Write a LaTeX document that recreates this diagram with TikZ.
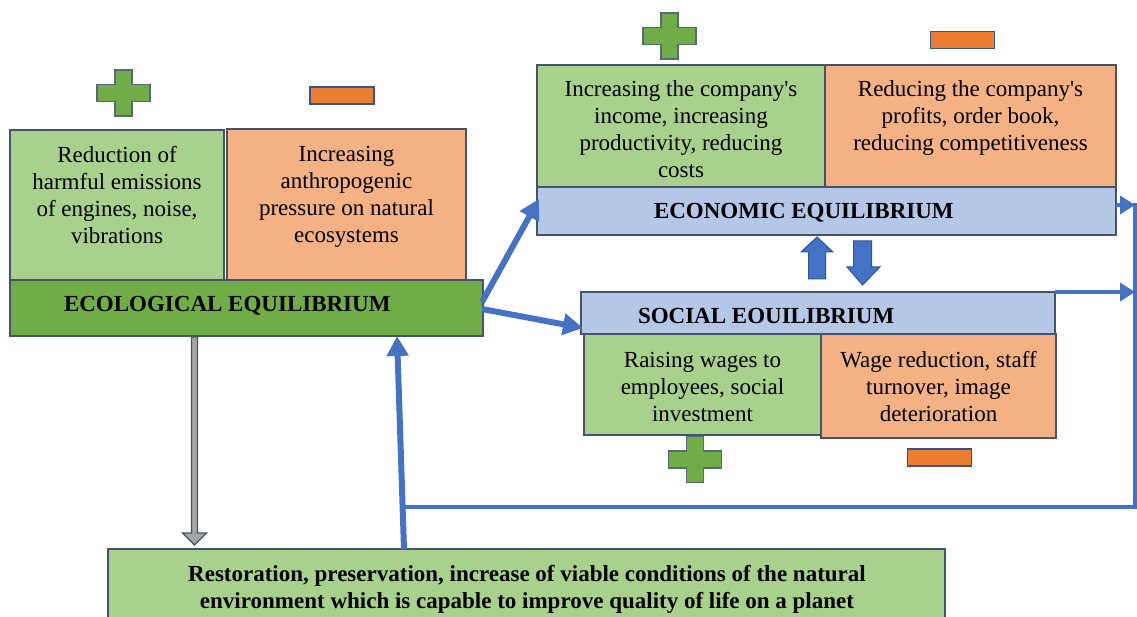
\documentclass[tikz,border=0pt]{standalone}
\usepackage{fontspec}
\setmainfont{Liberation Serif}
\usetikzlibrary{arrows.meta,calc}
\definecolor{lgreen}{HTML}{A9D18E}
\definecolor{lorange}{HTML}{F4B183}
\definecolor{dgreen}{HTML}{70AD47}
\definecolor{lblue}{HTML}{B4C7E7}
\definecolor{bordc}{HTML}{44546A}
\definecolor{conblue}{HTML}{4472C4}
\definecolor{darkblue}{HTML}{2F5597}
\definecolor{minusfill}{HTML}{ED7D31}
\definecolor{plusbord}{HTML}{56687A}
\definecolor{grayfill}{HTML}{A5A5A5}
\newcommand\sq{{\XeTeXglyph\XeTeXglyphindex "quotesingle" }}
\begin{document}
\begin{tikzpicture}[x=1bp,y=-1bp,
  box/.style={draw=bordc, line width=1.8bp, inner sep=0pt, outer sep=0pt},
  txt/.style={align=center, inner sep=0pt, outer sep=0pt, anchor=north, font=\fontsize{23bp}{26.7bp}\selectfont},
  headtxt/.style={inner sep=0pt, outer sep=0pt, anchor=base west, font=\fontsize{23bp}{26.7bp}\selectfont\bfseries},
  conn/.style={draw=conblue, line width=4.5bp},
  thickconn/.style={draw=conblue, line width=6bp},
  bigtip/.style={-{Triangle[length=20bp,width=21bp]}},
  smalltip/.style={-{Triangle[length=15bp,width=18bp]}},
  blockarrow/.style={fill=conblue, draw=darkblue, line width=1bp},
  plusmark/.pic={\draw[fill=dgreen, draw=plusbord, line width=1.8bp]
     (-8.5,-23) -- (8.5,-23) -- (8.5,-8.5) -- (26.5,-8.5) -- (26.5,8.5) -- (8.5,8.5)
     -- (8.5,23) -- (-8.5,23) -- (-8.5,8.5) -- (-26.5,8.5) -- (-26.5,-8.5) -- (-8.5,-8.5) -- cycle;},
  minusmark/.pic={\draw[fill=minusfill, draw=darkblue, line width=1.8bp] (-32,-8.5) rectangle (32,8.5);}
]
\useasboundingbox (0,0) rectangle (1137,617);
\clip (0,0) rectangle (1137,617);

% ---------- Ecological block ----------
\node[box, fill=lgreen, minimum width=214bp, minimum height=150bp] (ecop) at (117,205) {};
\node[box, fill=lorange, minimum width=239bp, minimum height=151bp] (ecom) at (346.5,204.5) {};
\node[box, fill=dgreen, minimum width=473bp, minimum height=56bp] (ecobar) at (246.5,308) {};
\node[txt] (ecoptxt) at (117,144.3) {\strut Reduction of\\harmful emissions\\of engines, noise,\\vibrations};
\node[txt] (ecomtxt) at (346.5,143.3) {\strut Increasing\\anthropogenic\\pressure on natural\\ecosystems};
\node[headtxt] (ecohead) at (64,312) {ECOLOGICAL EQUILIBRIUM};
\pic at (123.5,93) {plusmark};
\pic at (342,95.5) {minusmark};

% ---------- Economic block ----------
\node[box, fill=lgreen, minimum width=288bp, minimum height=122bp] (econp) at (681,126) {};
\node[box, fill=lorange, minimum width=291bp, minimum height=122bp] (econm) at (970.5,126) {};
\node[box, fill=lblue, minimum width=579bp, minimum height=48bp] (econbar) at (826.5,211) {};
\node[txt] (econptxt) at (681,78.3) {\strut Increasing the company\sq s\\income, increasing\\productivity, reducing\\costs};
\node[txt] (econmtxt) at (970.5,78.3) {\strut Reducing the company\sq s\\profits, order book,\\reducing competitiveness};
\node[headtxt] (econhead) at (654,219) {ECONOMIC EQUILIBRIUM};
\pic at (669.5,36) {plusmark};
\pic at (962.5,40) {minusmark};

% ---------- Social block ----------
\node[box, fill=lgreen, minimum width=237bp, minimum height=101bp] (socp) at (702.5,384.5) {};
\node[box, fill=lorange, minimum width=235bp, minimum height=104bp] (socm) at (938.5,386) {};
\node[box, fill=lblue, minimum width=474bp, minimum height=42bp] (socbar) at (818,313) {};
\node[txt] (socptxt) at (702.5,349.3) {\strut Raising wages to\\employees, social\\investment};
\node[txt] (socmtxt) at (938.5,349.3) {\strut Wage reduction, staff\\turnover, image\\deterioration};
\node[headtxt] (sochead) at (638,324) {SOCIAL EOUILIBRIUM};
\pic at (695,459.5) {plusmark};
\pic at (939.5,457.5) {minusmark};

% ---------- Bottom block ----------
\node[box, fill=lgreen, minimum width=837bp, minimum height=91bp] (bottom) at (526.5,594.5) {};
\node[txt, font=\fontsize{23bp}{26.7bp}\selectfont\bfseries] (bottomtxt) at (527,563.3)
  {\strut Restoration, preservation, increase of viable conditions of the natural\\environment which is capable to improve quality of life on a planet};

% ---------- Up / down block arrows ----------
\draw[blockarrow] (808.5,279) -- (808.5,252) -- (801,252) -- (817,237) -- (833,252) -- (825.5,252) -- (825.5,279) -- cycle;
\draw[blockarrow] (853.5,241) -- (871.5,241) -- (871.5,267) -- (880,267) -- (862.5,285) -- (847,267) -- (853.5,267) -- cycle;

% ---------- Gray arrow ecological -> bottom ----------
\draw[fill=grayfill, draw=bordc, line width=1.3bp]
  ($(ecobar.south west)+(181.5,1)$) -- ++(6,0) -- ++(0,196) -- ++(9,0) -- ++(-12,12) -- ++(-12,-12) -- ++(9,0) -- cycle;

% ---------- Blue connectors ----------
\coordinate (rtop) at (1135,205);
\coordinate (rbot) at (1135,507);
\coordinate (join) at (402.6,507);
\draw[thickconn, bigtip] ($(ecobar.east)+(-1,-6)$) -- ($(econbar.west)+(2,-12)$);
\draw[thickconn, bigtip] ($(ecobar.east)+(-1,1)$) -- ($(socbar.west)+(2,15)$);
\draw[conn, smalltip] ($(econbar.east)+(0,-6)$) -- (rtop);
\draw[conn, smalltip] (socbar.north east) -- (rtop |- socbar.north east);
\draw[conn] ($(rtop)+(0,-2)$) -- (rbot) -- (join);
\draw[thickconn, bigtip] ($(bottom.north west)+(296,0)$) -- ($(ecobar.south west)+(387,0)$);
\end{tikzpicture}
\end{document}
